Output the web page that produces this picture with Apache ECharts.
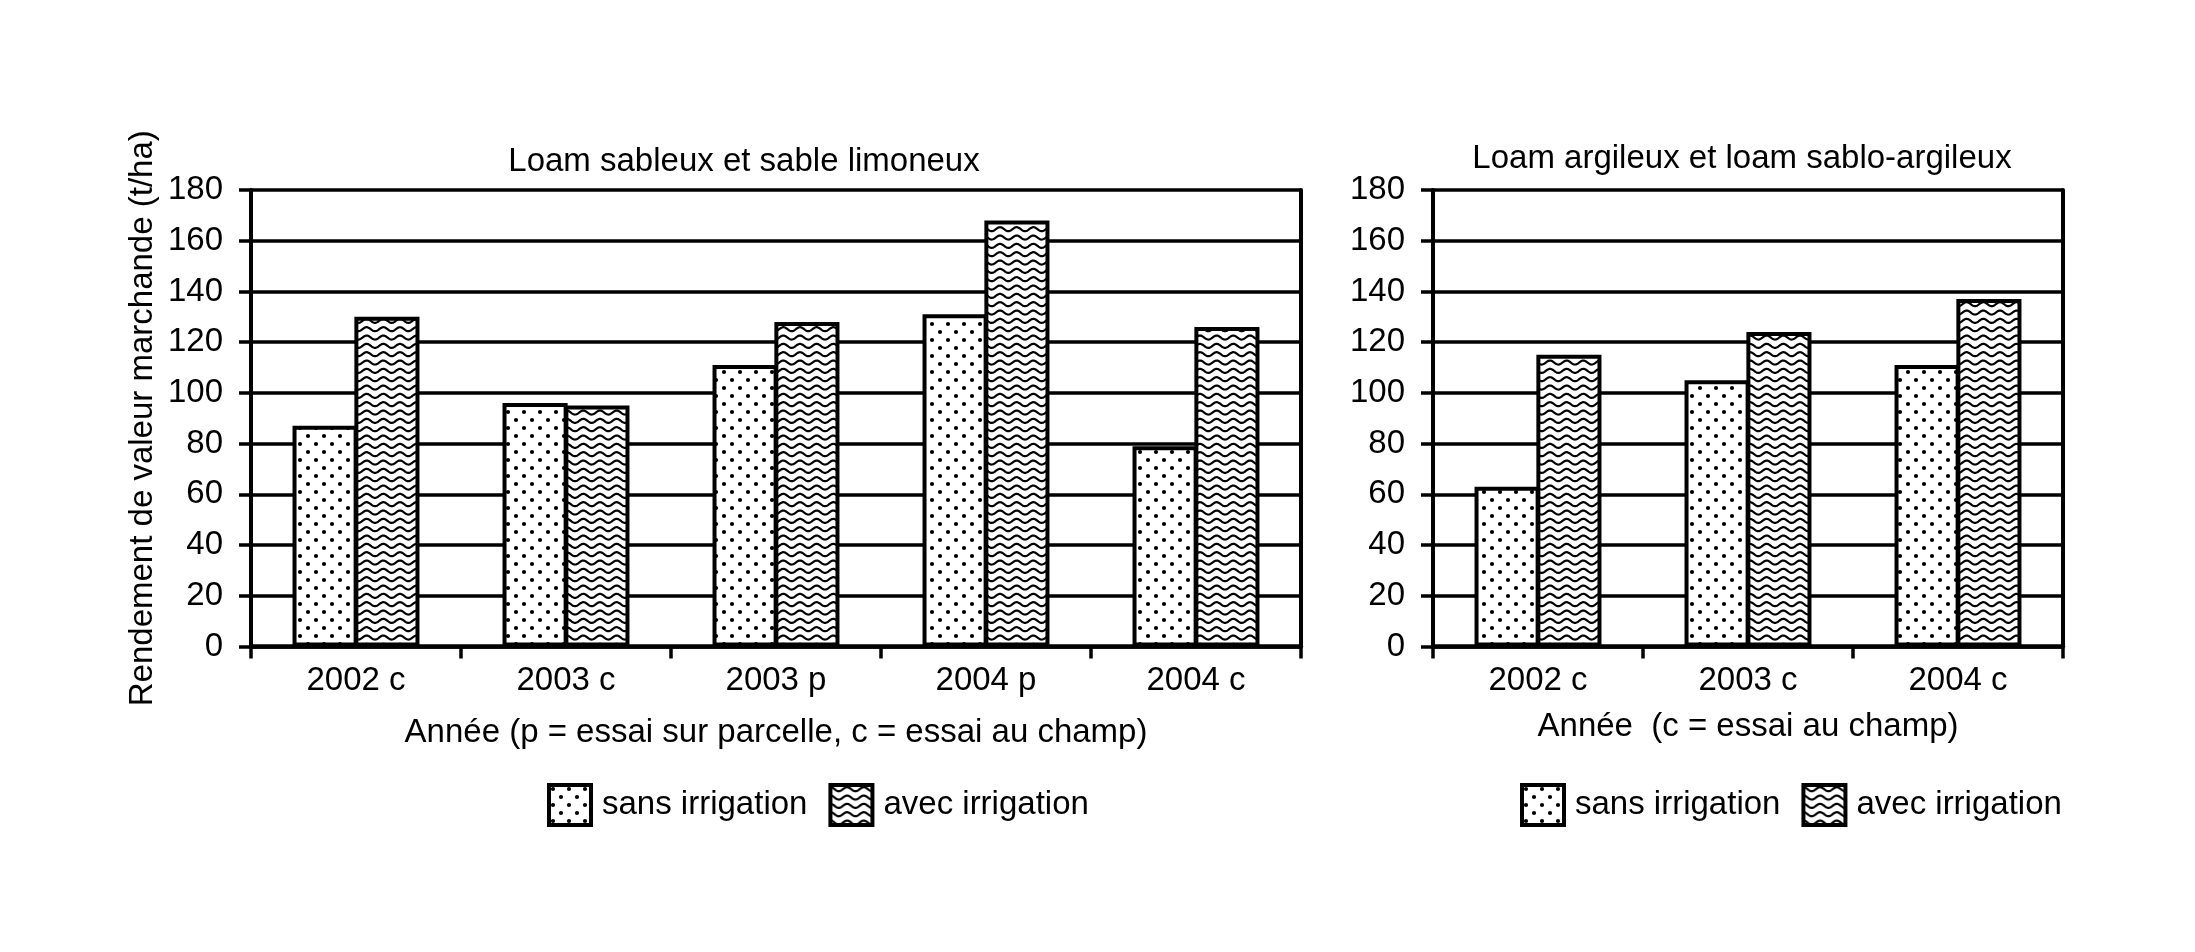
<!DOCTYPE html>
<html>
<head>
<meta charset="utf-8">
<script src="https://cdn.jsdelivr.net/npm/echarts@6/dist/echarts.min.js"></script>
<style>
  html, body { margin: 0; padding: 0; background: #fff; }
  #main { width: 2195px; height: 952px; }
</style>
</head>
<body>
<div id="main"></div>
<script>
// données
const catsLeft = ['2002 c', '2003 c', '2003 p', '2004 p', '2004 c'];
const sansLeft = [87, 96, 111, 131, 79];
const avecLeft = [130, 95, 128, 168, 126];

const catsRight = ['2002 c', '2003 c', '2004 c'];
const sansRight = [63, 105, 111];
const avecRight = [115, 124, 137];

const yMin = 0;
const yMax = 180;
const yStep = 20;

const seriesNames = ['sans irrigation', 'avec irrigation'];

const FONT = '"Liberation Sans", Arial, Helvetica, sans-serif';

// motif pointillé (points noirs en quinconce)
function dotPattern() {
  const c = document.createElement('canvas');
  c.width = 16; c.height = 16;
  const g = c.getContext('2d');
  g.fillStyle = '#fff';
  g.fillRect(0, 0, 16, 16);
  g.fillStyle = '#000';
  [[4, 4], [12, 12]].forEach(function (p) {
    g.beginPath();
    g.arc(p[0], p[1], 2.1, 0, Math.PI * 2);
    g.fill();
  });
  return c;
}

// motif vagues horizontales : 3 périodes x 3 lignes par tuile
function wavePattern() {
  const w = 50, h = 25;
  const c = document.createElement('canvas');
  c.width = w; c.height = h;
  const g = c.getContext('2d');
  g.fillStyle = '#fff';
  g.fillRect(0, 0, w, h);
  g.strokeStyle = '#000';
  g.lineWidth = 2.2;
  for (let k = -1; k <= 3; k++) {
    const y0 = 4.2 + k * h / 3;
    g.beginPath();
    for (let x = -2; x <= w + 2; x += 0.5) {
      const y = y0 - 2 * Math.cos(2 * Math.PI * x / (w / 3));
      if (x === -2) g.moveTo(x, y); else g.lineTo(x, y);
    }
    g.stroke();
  }
  return c;
}

const dots = { image: dotPattern(), repeat: 'repeat' };
const waves = { image: wavePattern(), repeat: 'repeat' };

const txt = { fontFamily: FONT, fontSize: 33, color: '#000' };

function xAxisOf(grid, cats, name, gap) {
  return {
    type: 'category',
    gridIndex: grid,
    data: cats,
    axisLine: { show: true, lineStyle: { color: '#000', width: 4.5 } },
    axisTick: { show: true, length: 12, lineStyle: { color: '#000', width: 3.5 } },
    axisLabel: Object.assign({ margin: 18 }, txt),
    name: name,
    nameLocation: 'middle',
    nameGap: gap,
    nameTextStyle: txt
  };
}

function yAxisOf(grid, withName) {
  return {
    type: 'value',
    gridIndex: grid,
    min: yMin, max: yMax, interval: yStep,
    axisLine: { show: true, lineStyle: { color: '#000', width: 4 } },
    axisTick: { show: true, length: 12, lineStyle: { color: '#000', width: 3.5 } },
    axisLabel: Object.assign({ margin: 28 }, txt),
    splitLine: { show: true, lineStyle: { color: '#000', width: 3.5 } },
    name: withName ? 'Rendement de valeur marchande (t/ha)' : '',
    nameLocation: 'middle',
    nameGap: 92,
    nameTextStyle: txt
  };
}

function borderAxisOf(grid) {
  return {
    type: 'value',
    gridIndex: grid,
    position: 'right',
    min: yMin, max: yMax, interval: yStep,
    axisLine: { show: true, lineStyle: { color: '#000', width: 4 } },
    axisTick: { show: false },
    axisLabel: { show: false },
    splitLine: { show: false }
  };
}

function barSeries(name, x, y, data, fill) {
  return {
    name: name,
    type: 'bar',
    xAxisIndex: x,
    yAxisIndex: y,
    data: data,
    barWidth: '31%',
    barGap: '-5%',
    itemStyle: { color: fill, borderColor: '#000', borderWidth: 4 },
    emphasis: { disabled: true }
  };
}

function legendOf(left) {
  return {
    data: seriesNames,
    left: left,
    top: 783,
    padding: 0,
    icon: 'rect',
    itemWidth: 42,
    itemHeight: 40,
    itemGap: 21,
    itemStyle: { borderColor: '#000', borderWidth: 4 },
    textStyle: Object.assign({ padding: [0, 0, 0, 6] }, txt)
  };
}

const chart = echarts.init(document.getElementById('main'));

chart.setOption({
  backgroundColor: '#fff',
  animation: false,
  textStyle: { fontFamily: FONT },
  grid: [
    { left: 251, top: 190, width: 1050, height: 456.5 },
    { left: 1433, top: 190, width: 630, height: 456.5 }
  ],
  xAxis: [
    xAxisOf(0, catsLeft, 'Année (p = essai sur parcelle, c = essai au champ)', 70),
    xAxisOf(1, catsRight, 'Année  (c = essai au champ)', 64)
  ],
  yAxis: [
    yAxisOf(0, true),
    borderAxisOf(0),
    yAxisOf(1, false),
    borderAxisOf(1)
  ],
  legend: [legendOf(547), legendOf(1520)],
  graphic: [
    {
      type: 'text', x: 744, y: 162,
      style: { text: 'Loam sableux et sable limoneux', textAlign: 'center', textVerticalAlign: 'middle', fill: '#000', font: '33px ' + FONT }
    },
    {
      type: 'text', x: 1742, y: 159,
      style: { text: 'Loam argileux et loam sablo-argileux', textAlign: 'center', textVerticalAlign: 'middle', fill: '#000', font: '33px ' + FONT }
    }
  ],
  series: [
    barSeries(seriesNames[0], 0, 0, sansLeft, dots),
    barSeries(seriesNames[1], 0, 0, avecLeft, waves),
    barSeries(seriesNames[0], 1, 2, sansRight, dots),
    barSeries(seriesNames[1], 1, 2, avecRight, waves)
  ]
});
</script>
</body>
</html>
